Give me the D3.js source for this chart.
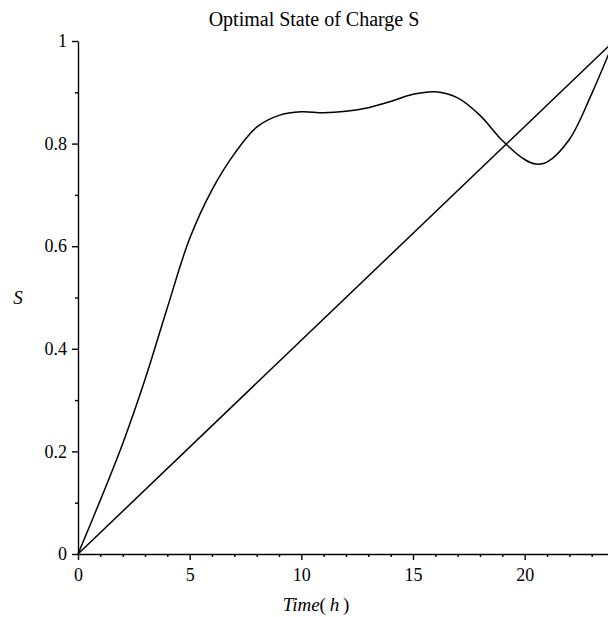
<!DOCTYPE html>
<html lang="en"><head>
<meta charset="utf-8">
<title>optimal state of charge</title>
<script src="https://cdn.jsdelivr.net/npm/d3@7"></script>
<style>
  body { margin: 0; background: #fff; }
  text { font-family: "Liberation Serif", "Times New Roman", serif; fill: #000; }
</style>
</head>
<body>
<svg width="608" height="617"></svg>
<script>
// values
var timeHours = [0, 1, 2, 3, 4, 5, 6, 7, 8, 9, 10, 11, 12, 13, 14, 15, 16, 17, 18, 19, 20, 20.5, 21, 22, 23, 24];
var socOptimal = [0, 0.105, 0.215, 0.34, 0.48, 0.615, 0.71, 0.78, 0.832, 0.855, 0.862, 0.86, 0.863, 0.87, 0.882, 0.896, 0.901, 0.889, 0.855, 0.806, 0.769, 0.76, 0.764, 0.808, 0.897, 1.0];
var lineTime = [0, 24];
var lineSoc = [0, 1];

var xMajor = [0, 5, 10, 15, 20];
var xMinor = [1, 2, 3, 4, 6, 7, 8, 9, 11, 12, 13, 14, 16, 17, 18, 19, 21, 22, 23];
var yMajor = [0, 0.2, 0.4, 0.6, 0.8, 1];
var yMinor = [0.1, 0.3, 0.5, 0.7, 0.9];

var svg = d3.select("svg");

var x = d3.scaleLinear().domain([0, 24]).range([78, 614]);
var y = d3.scaleLinear().domain([0, 1]).range([554, 41]);
var fmt = function(d) { return String(d); };

// axes
svg.append("g").attr("transform", "translate(0," + y(0) + ")")
   .call(d3.axisBottom(x).tickValues(xMajor).tickFormat(fmt).tickSize(6).tickSizeOuter(0).tickPadding(8));
svg.append("g").attr("transform", "translate(0," + y(0) + ")")
   .call(d3.axisBottom(x).tickValues(xMinor).tickSize(3).tickFormat(""))
   .select(".domain").remove();

svg.append("g").attr("transform", "translate(" + x(0) + ",0)")
   .call(d3.axisLeft(y).tickValues(yMajor).tickFormat(fmt).tickSize(6).tickSizeOuter(0).tickPadding(5));
svg.append("g").attr("transform", "translate(" + x(0) + ",0)")
   .call(d3.axisLeft(y).tickValues(yMinor).tickSize(3).tickFormat(""))
   .select(".domain").remove();

svg.selectAll(".domain, .tick line").attr("stroke", "#000").attr("stroke-width", 1.4);
svg.selectAll(".tick text").attr("font-size", 18).attr("fill", "#000");

// curves
var line = d3.line()
    .x(function(d) { return x(d[0]); })
    .y(function(d) { return y(d[1]); });

svg.append("path")
   .datum(d3.zip(lineTime, lineSoc))
   .attr("fill", "none")
   .attr("stroke", "#000")
   .attr("stroke-width", 1.5)
   .attr("d", line);

svg.append("path")
   .datum(d3.zip(timeHours, socOptimal))
   .attr("fill", "none")
   .attr("stroke", "#000")
   .attr("stroke-width", 1.5)
   .attr("d", line.curve(d3.curveCatmullRom.alpha(0.5)));

// titles
svg.append("text")
   .attr("x", 314).attr("y", 26)
   .attr("text-anchor", "middle")
   .attr("font-size", 20)
   .text("Optimal State of Charge S");

svg.append("text")
   .attr("x", 18).attr("y", 304)
   .attr("text-anchor", "middle")
   .attr("font-size", 19)
   .attr("font-style", "italic")
   .text("S");

var xl = svg.append("text")
   .attr("x", 316).attr("y", 611)
   .attr("text-anchor", "middle")
   .attr("font-size", 19);
xl.append("tspan").attr("font-style", "italic").text("Time");
xl.append("tspan").text("(\u2009");
xl.append("tspan").attr("font-style", "italic").text("h");
xl.append("tspan").text("\u2009)");
</script>
</body>
</html>
